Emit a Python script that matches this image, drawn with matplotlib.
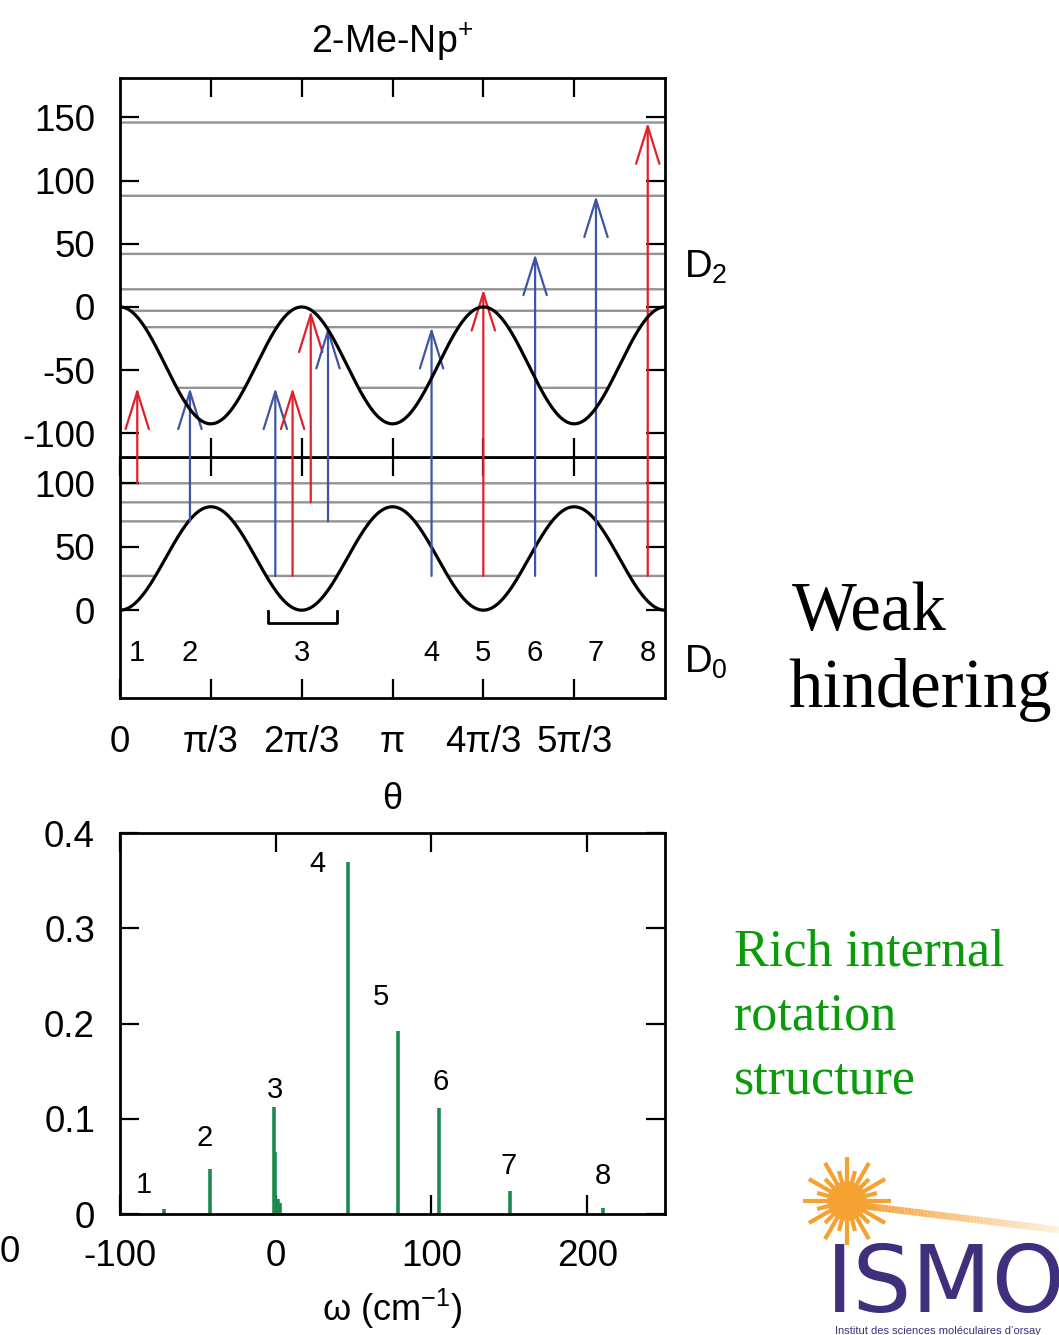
import numpy as np
import matplotlib.pyplot as plt
from matplotlib.collections import LineCollection
from matplotlib.colors import to_rgb

plt.rcParams["font.family"] = ["Liberation Sans", "DejaVu Sans"]
plt.rcParams["mathtext.fontset"] = "custom"
plt.rcParams["mathtext.rm"] = "Liberation Sans"
plt.rcParams["mathtext.it"] = "Liberation Sans:italic"

# torsion angle in units of pi/3
theta_ticks = [0, 1, 2, 3, 4, 5]
theta_labels = ["0", "π/3", "2π/3", "π", "4π/3", "5π/3"]
d2_depth = 92.5      # D2 well depth (cm-1)
d0_barrier = 81.5    # D0 barrier (cm-1)
d2_levels = [146, 88, 42, 14, -3, -16, -64]
d0_levels = [100, 85, 70, 27]
d2_yticks = [150, 100, 50, 0, -50, -100]
d0_yticks = [100, 50, 0]

# transitions D0 -> D2
arr_theta = [0.19, 0.77, 1.71, 1.90, 2.10, 2.29, 3.43, 4.00, 4.57, 5.24, 5.81]
arr_from = [100, 70, 27, 27, 85, 70, 27, 27, 27, 27, 27]
arr_to = [-64, -64, -64, -64, -3, -16, -16, 14, 42, 88, 146]
arr_kind = ["r", "b", "b", "r", "r", "b", "b", "r", "b", "b", "r"]
band_names = ["1", "2", "3", "4", "5", "6", "7", "8"]
band_theta = [0.19, 0.77, 2.0, 3.43, 4.00, 4.57, 5.24, 5.81]
band3_span = [1.63, 2.39]

# simulated spectrum
omega = [-71.5, -42.3, -1.0, -0.4, 1.5, 3.0, 46.3, 78.7, 104.7, 150.7, 210.0]
intensity = [0.005, 0.047, 0.112, 0.065, 0.016, 0.012, 0.370, 0.192, 0.111, 0.024, 0.006]
spec_xticks = [-100, 0, 100, 200]
spec_yticks = [0, 0.1, 0.2, 0.3, 0.4]
spec_ylabels = ["0", "0.1", "0.2", "0.3", "0.4"]
lbl_omega = [-84.7, -45.4, -0.2, 27, 67.5, 106, 149.8, 210]
lbl_int = [0.030, 0.080, 0.130, 0.368, 0.228, 0.139, 0.050, 0.040]

RED = "#e2202c"
BLUE = "#3c55a5"
GRAY = "#939393"
GREEN = "#1e8a4e"
PURPLE = "#3f2f7d"
W, H = 1059, 1335


def box(l, t, r, b):
    return [l / W, 1 - b / H, (r - l) / W, (b - t) / H]


def style(ax, pad=18):
    for s in ax.spines.values():
        s.set_linewidth(2)
    ax.tick_params(direction="in", length=14, width=1.6, top=True, right=True,
                   labelsize=26.5, pad=pad)


fig = plt.figure(figsize=(W / 100, H / 100), dpi=100)

# decoration layer (logo)
deco = fig.add_axes([0, 0, 1, 1])
deco.set_xlim(0, W)
deco.set_ylim(H, 0)
deco.axis("off")
bx = np.linspace(865, 1059, 60)
by = np.linspace(1206, 1230, 60)
segs = [[(bx[i], by[i]), (bx[i + 1], by[i + 1])] for i in range(len(bx) - 1)]
c0, c1 = np.array(to_rgb("#f5a23a")), np.array(to_rgb("#fdf1dc"))
cols = [tuple(c0 + (c1 - c0) * i / (len(segs) - 1)) for i in range(len(segs))]
deco.add_collection(LineCollection(segs, colors=cols, linewidths=5))
ang = np.linspace(0, 2 * np.pi, 24, endpoint=False)
for k, a in enumerate(ang):
    r1 = 44 if k % 2 == 0 else 31
    deco.plot([847 + 14 * np.cos(a), 847 + r1 * np.cos(a)],
              [1201 + 14 * np.sin(a), 1201 + r1 * np.sin(a)],
              color="#f6a233", lw=3, solid_capstyle="butt")
deco.add_patch(plt.Circle((847, 1201), 19, color="#f6a233"))

ax_lo = fig.add_axes(box(120, 457.3, 665, 697.7))
ax_up = fig.add_axes(box(120, 78.3, 665, 457.3))
ax_sp = fig.add_axes(box(120, 833.3, 665, 1214))

t = np.linspace(0, 6, 1201)
v2 = -d2_depth / 2 * (1 - np.cos(np.pi * t))
v0 = d0_barrier / 2 * (1 - np.cos(np.pi * t))

# upper: D2
for e in d2_levels:
    ax_up.plot(t, np.where(e >= v2, e, np.nan), color=GRAY, lw=1.7, zorder=1)
ax_up.plot(t, v2, color="black", lw=2.3, zorder=4)
ax_up.set_xlim(0, 6)
ax_up.set_ylim(-119, 181)
ax_up.set_xticks([1, 2, 3, 4, 5])
ax_up.set_yticks(d2_yticks)
ax_up.set_yticklabels([str(v) for v in d2_yticks])
style(ax_up)
ax_up.tick_params(labelbottom=False)
ax_up.set_title("2-Me-Np$^{+}$", fontsize=27, pad=18)
ax_up.text(1.035, 0.5, "D$_2$", transform=ax_up.transAxes, fontsize=27.5,
           ha="left", va="center")

# lower: D0
for e in d0_levels:
    ax_lo.plot(t, np.where(e >= v0, e, np.nan), color=GRAY, lw=1.7, zorder=1)
ax_lo.plot(t, v0, color="black", lw=2.3, zorder=4)
ax_lo.set_xlim(0, 6)
ax_lo.set_ylim(-69, 120.5)
ax_lo.set_xticks(theta_ticks)
ax_lo.set_xticklabels(theta_labels)
ax_lo.set_yticks(d0_yticks)
ax_lo.set_yticklabels([str(v) for v in d0_yticks])
style(ax_lo)
ax_lo.tick_params(axis="x", pad=20)
ax_lo.set_xlabel("θ", fontsize=26)
ax_lo.xaxis.set_label_coords(0.5, -0.35)
ax_lo.text(1.035, 0.145, "D$_0$", transform=ax_lo.transAxes, fontsize=27.5,
           ha="left", va="center")
for name, th in zip(band_names, band_theta):
    ax_lo.text(th, -34, name, ha="center", va="center", fontsize=21)
a, b = band3_span
ax_lo.plot([a, a, b, b], [-1, -10.5, -10.5, -1], color="black", lw=2)

for th, e0, e2, k in zip(arr_theta, arr_from, arr_to, arr_kind):
    ax_up.annotate("", xy=(th, e2), xycoords=ax_up.transData,
                   xytext=(th, e0), textcoords=ax_lo.transData,
                   annotation_clip=False,
                   arrowprops=dict(arrowstyle="->,head_length=1.35,head_width=0.42",
                                   color=RED if k == "r" else BLUE, lw=1.6,
                                   shrinkA=0, shrinkB=0, mutation_scale=20))

# spectrum
ax_sp.vlines(omega, 0, intensity, color=GREEN, lw=2.6)
ax_sp.set_xlim(-100, 250)
ax_sp.set_ylim(0, 0.4)
ax_sp.set_xticks(spec_xticks)
ax_sp.set_xticklabels([str(v) for v in spec_xticks])
ax_sp.set_yticks(spec_yticks)
ax_sp.set_yticklabels(spec_ylabels)
style(ax_sp)
ax_sp.set_xlabel("ω (cm$^{-1}$)", fontsize=26)
ax_sp.xaxis.set_label_coords(0.5, -0.19)
for name, om, y in zip(band_names, lbl_omega, lbl_int):
    ax_sp.text(om, y, name, ha="center", va="center", fontsize=21)

# side notes
fig.text(792 / W, 1 - 630 / H, "Weak", fontsize=49.5, family="Liberation Serif",
         va="baseline")
fig.text(788 / W, 1 - 707 / H, "hindering", fontsize=49.5, family="Liberation Serif",
         va="baseline")
for txt, yb in zip(["Rich internal", "rotation", "structure"], [965, 1030, 1093]):
    fig.text(734 / W, 1 - yb / H, txt, fontsize=37.5, family="Liberation Serif",
             color="#0a9a0a", va="baseline")
fig.text(10 / W, 1 - 1253 / H, "0", fontsize=26.5, ha="center", va="center")
fig.text(826 / W, 1 - 1312 / H, "ISMO", fontsize=67, color=PURPLE,
         family="DejaVu Sans", va="baseline")
fig.text(835 / W, 1 - 1326 / H, "Institut des sciences moléculaires d’orsay",
         fontsize=8, color=PURPLE, va="top")

fig.savefig("out.png", dpi=100)
